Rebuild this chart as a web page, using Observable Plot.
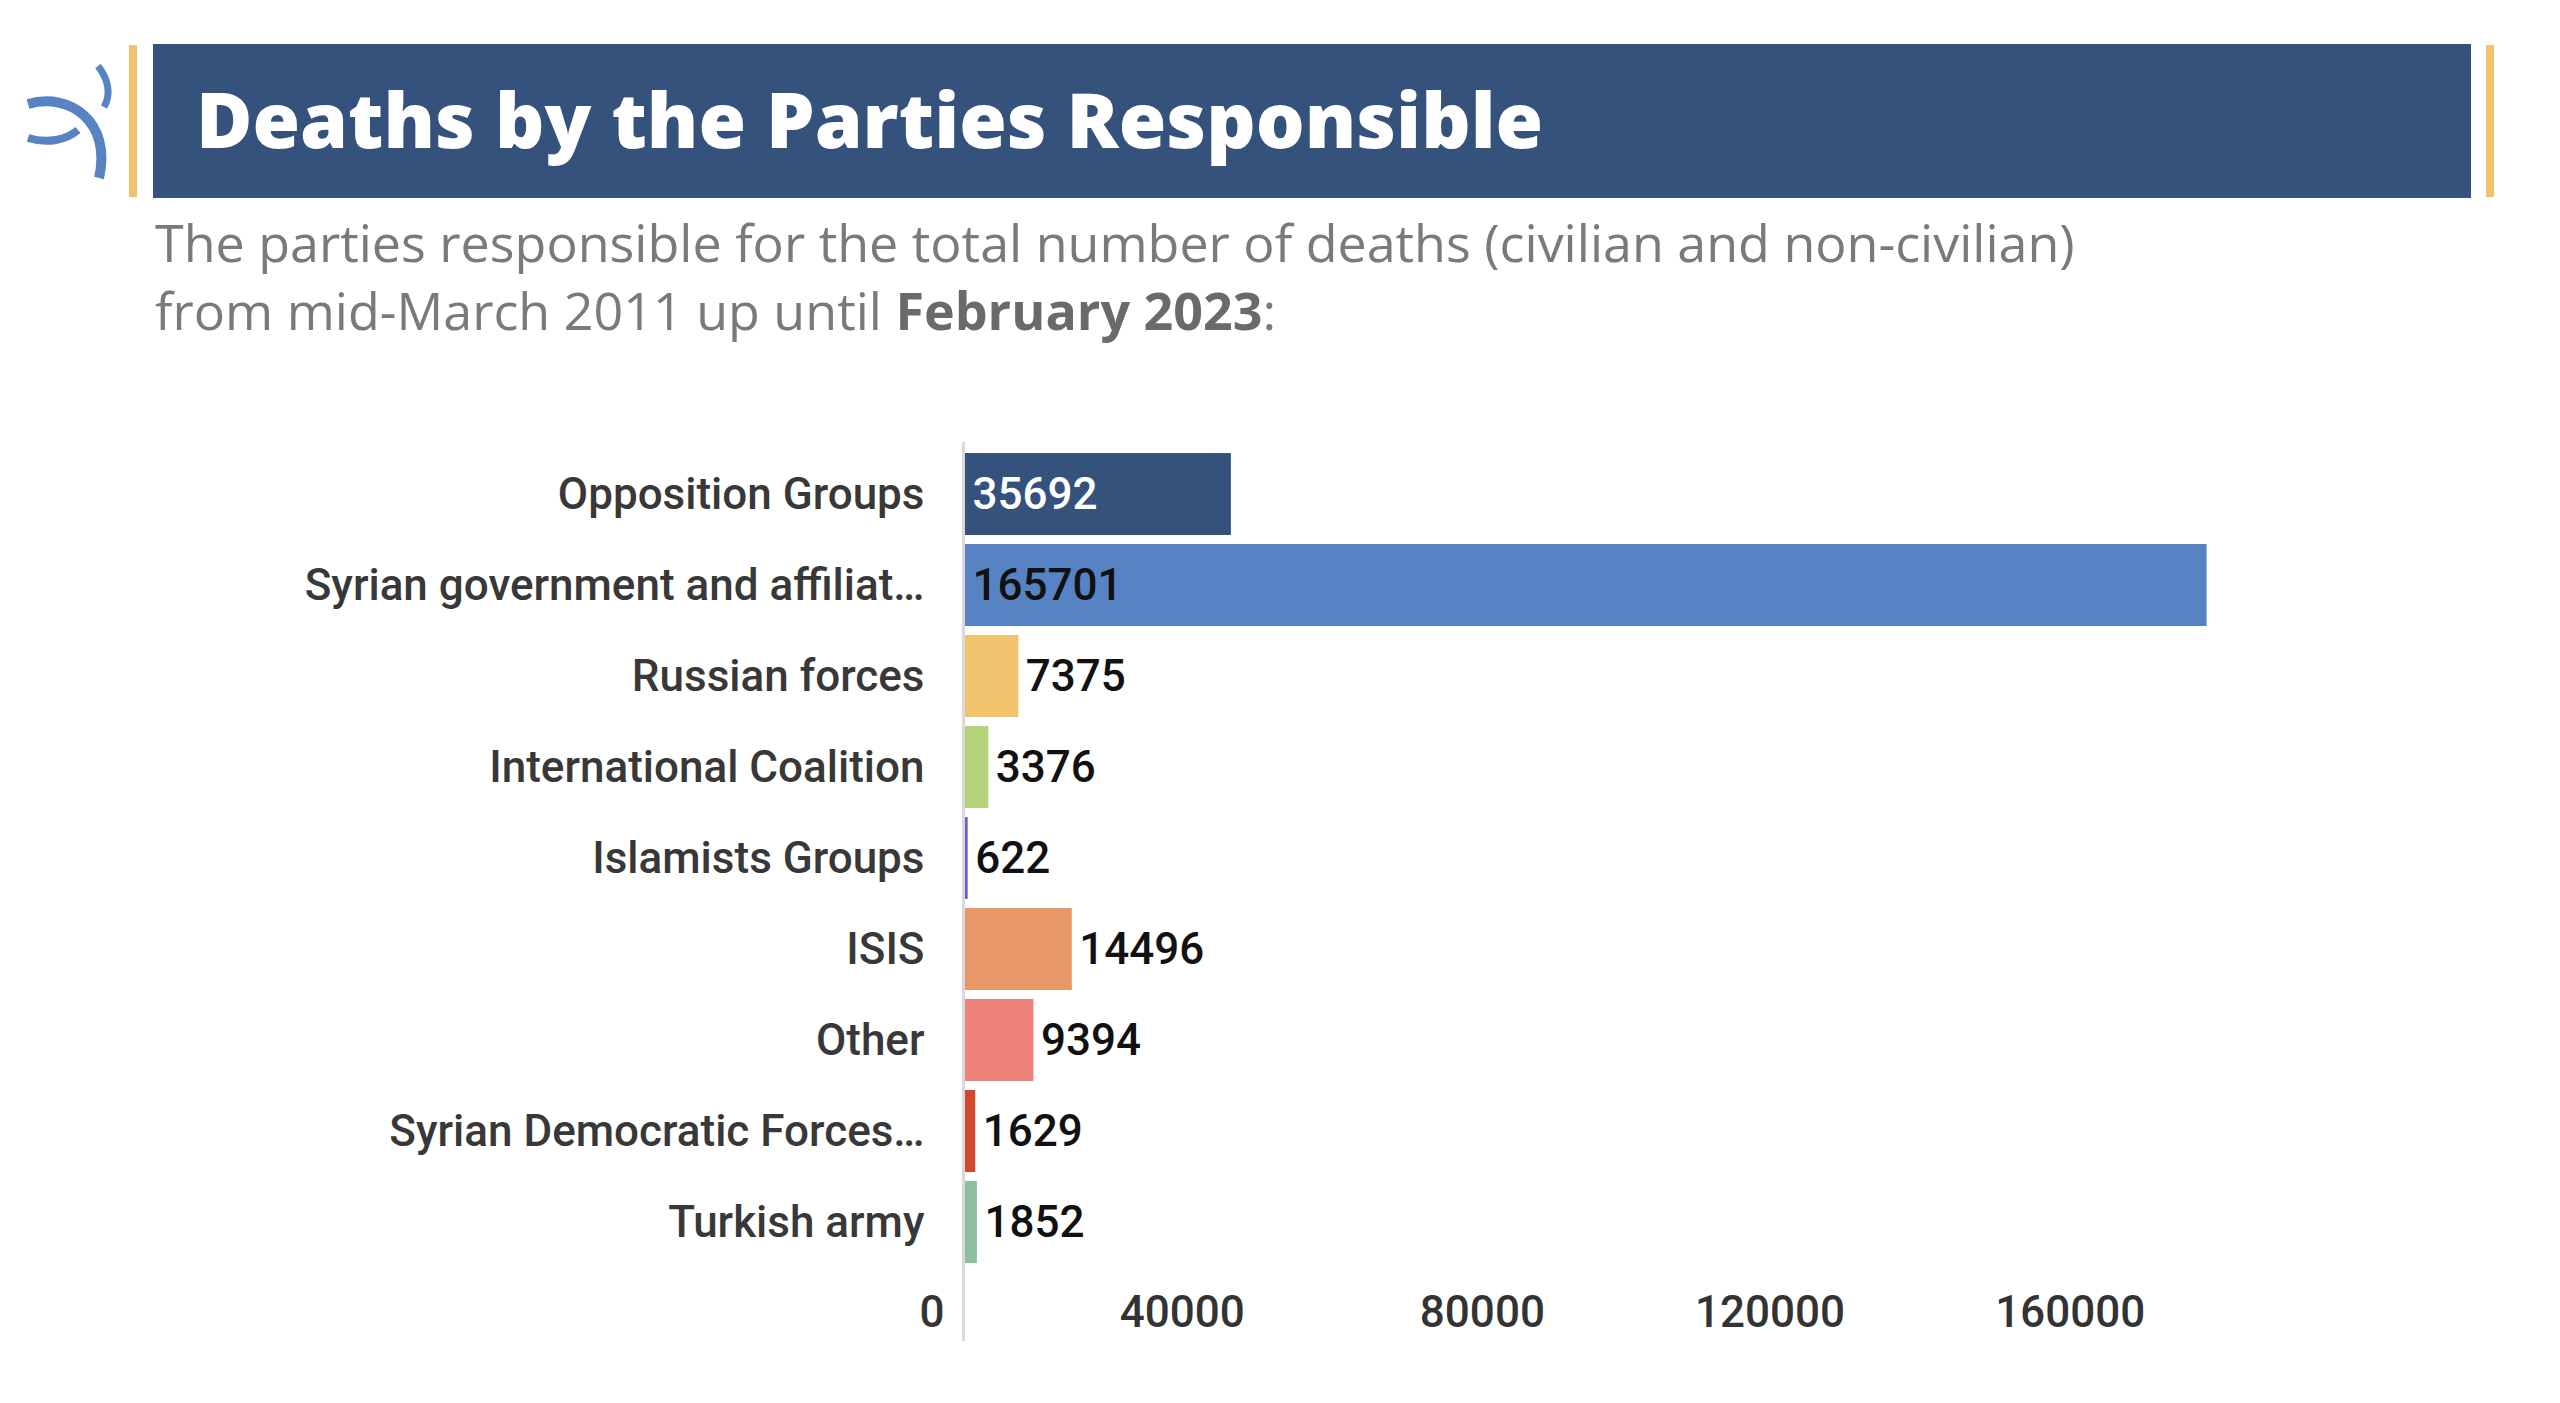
<!DOCTYPE html>
<html>
<head>
<meta charset="utf-8">
<script src="https://cdn.jsdelivr.net/npm/d3@7"></script>
<script src="https://cdn.jsdelivr.net/npm/@observablehq/plot@0.6"></script>
<style>
  html, body { margin: 0; padding: 0; background: #fff; }
  #page { position: relative; width: 2560px; height: 1403px; overflow: hidden; background: #fff; }
  #logo { position: absolute; left: 0; top: 0; }
  .gold { position: absolute; top: 45px; width: 8px; height: 152px; background: #F0C36B; }
  #banner { position: absolute; left: 153px; top: 44px; width: 2318px; height: 154px; background: #34527B; }
  #title { position: absolute; left: 196px; top: 42px; height: 154px; line-height: 154px;
           font-family: "Open Sans", Lato, sans-serif; font-weight: 800; font-size: 77px; color: #fff; white-space: nowrap; }
  #subtitle { position: absolute; left: 155px; top: 208px; font-family: "Open Sans", Lato, sans-serif;
              font-weight: 400; font-size: 52px; line-height: 68px; color: #7a7a7a; white-space: nowrap; }
  #subtitle b { font-weight: 700; color: #6a6a6a; }
  #chart { position: absolute; left: 0; top: 400px; }
</style>
</head>
<body>
<div id="page">
  <svg id="logo" width="140" height="200" viewBox="0 0 140 200">
    <path d="M28,104 C70,92 112,122 99,178" fill="none" stroke="#5783C2" stroke-width="10"/>
    <path d="M98,66 C109,80 111,95 104,107" fill="none" stroke="#5783C2" stroke-width="7"/>
    <path d="M28,138 C48,144 66,140 78,130" fill="none" stroke="#5783C2" stroke-width="8"/>
  </svg>
  <div class="gold" style="left:129px"></div>
  <div id="banner"></div>
  <div class="gold" style="left:2486px"></div>
  <div id="title">Deaths by the Parties Responsible</div>
  <div id="subtitle">The parties responsible for the total number of deaths (civilian and non-civilian)<br>from mid-March 2011 up until <b>February 2023</b>:</div>
  <div id="chart"></div>
</div>
<script>
const categories = [
  "Opposition Groups",
  "Syrian government and affiliat\u2026",
  "Russian forces",
  "International Coalition",
  "Islamists Groups",
  "ISIS",
  "Other",
  "Syrian Democratic Forces\u2026",
  "Turkish army"
];
const deaths = [35692, 165701, 7375, 3376, 622, 14496, 9394, 1629, 1852];
const barColors = ["#34527B", "#5783C2", "#F2C46E", "#B3D27A", "#6A5FD0", "#E89868", "#EB8179", "#D4492E", "#8CBF9E"];
const xTicks = [0, 40000, 80000, 120000, 160000];
const insideCount = 2;

const data = categories.map((c, i) => ({party: c, deaths: deaths[i], idx: i}));

const chart = Plot.plot({
  width: 2560,
  height: 1000,
  marginTop: 42,
  marginBottom: 126,
  marginLeft: 963,
  marginRight: 96,
  style: {fontFamily: "Roboto, sans-serif", color: "#333", background: "transparent"},
  x: {domain: [0, 200000], axis: null, label: null},
  y: {domain: categories, axis: null, padding: 0.1, label: null},
  color: {domain: categories, range: barColors},
  marks: [
    Plot.barX(data, {x: "deaths", y: "party", fill: "party"}),
    Plot.ruleX([0], {stroke: "#d9d9d9", strokeWidth: 3, insetBottom: -67}),
    Plot.axisY({label: null, tickSize: 0, tickPadding: 39, fontSize: 44, fontWeight: 500, fill: "#383838"}),
    Plot.axisX({label: null, ticks: xTicks, tickSize: 0, tickPadding: 21, textAnchor: "end", dx: -19,
                tickFormat: d => String(d), fontSize: 44, fontWeight: 500, fill: "#333"}),
    Plot.text(data.filter(d => d.idx === 0), {x: 0, y: "party", text: d => String(d.deaths),
      textAnchor: "start", dx: 9, fill: "#fff", fontSize: 44, fontWeight: 500}),
    Plot.text(data.filter(d => d.idx > 0 && d.idx < insideCount), {x: 0, y: "party", text: d => String(d.deaths),
      textAnchor: "start", dx: 9, fill: "#111", fontSize: 44, fontWeight: 500}),
    Plot.text(data.filter(d => d.idx >= insideCount), {x: "deaths", y: "party", text: d => String(d.deaths),
      textAnchor: "start", dx: 7, fill: "#111", fontSize: 44, fontWeight: 500})
  ]
});
document.getElementById("chart").appendChild(chart);
</script>
</body>
</html>
